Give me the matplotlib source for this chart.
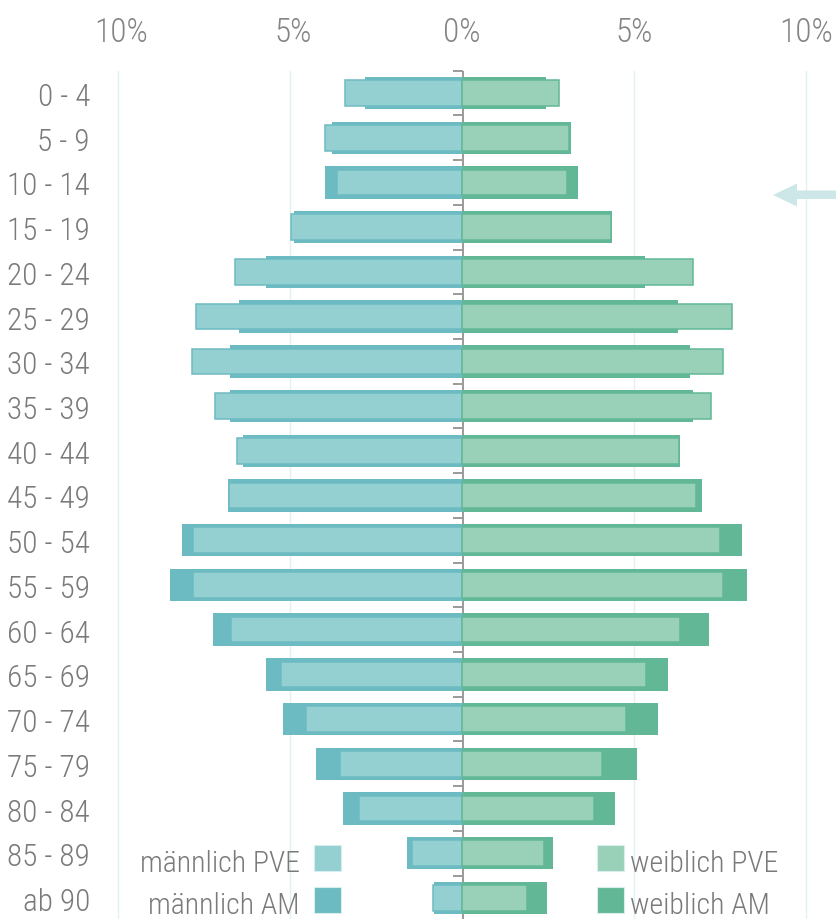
import matplotlib
matplotlib.use("Agg")
import matplotlib.pyplot as plt
from matplotlib.patches import Rectangle, Polygon

plt.rcParams['font.family'] = ['Roboto Condensed', 'Barlow Condensed', 'DejaVu Sans']
plt.rcParams['font.weight'] = 'light'

# age groups and shares in percent
ages = ['0 - 4', '5 - 9', '10 - 14', '15 - 19', '20 - 24', '25 - 29', '30 - 34',
        '35 - 39', '40 - 44', '45 - 49', '50 - 54', '55 - 59', '60 - 64',
        '65 - 69', '70 - 74', '75 - 79', '80 - 84', '85 - 89', 'ab 90']
m_pve = [3.40, 3.97, 3.62, 4.96, 6.59, 7.72, 7.85, 7.19, 6.53, 6.77,
         7.82, 7.83, 6.71, 5.25, 4.54, 3.56, 3.00, 1.45, 0.85]
m_am = [2.83, 3.78, 3.97, 4.89, 5.70, 6.48, 6.73, 6.75, 6.36, 6.79,
        8.13, 8.49, 7.24, 5.71, 5.20, 4.24, 3.45, 1.60, 0.81]
w_pve = [2.82, 3.11, 3.04, 4.34, 6.71, 7.86, 7.60, 7.24, 6.32, 6.80,
         7.51, 7.58, 6.35, 5.34, 4.76, 4.08, 3.83, 2.38, 1.90]
w_am = [2.44, 3.18, 3.38, 4.37, 5.32, 6.28, 6.62, 6.72, 6.35, 6.99,
        8.15, 8.28, 7.17, 5.98, 5.69, 5.09, 4.46, 2.65, 2.46]
xticks = [-10, -5, 0, 5, 10]
xlabels = ['10%', '5%', '0%', '5%', '10%']

c_m_pve = '#94cfd1'
c_m_am = '#6cbbc2'
c_w_pve = '#99d1b8'
c_w_am = '#62b797'
grey = '#858585'
txtgrey = '#7a7a7a'

W, H = 837, 920
fig = plt.figure(figsize=(W / 100, H / 100), dpi=100)

def fx(px):
    return px / W

def fy(py):
    return 1 - py / H

# axes: 0% at x=462, 34.4 px per percent; rows 44.72 px apart starting y=94
x0, sx = 462.0, 34.4
y0, sy = 94.0, 44.72
ax_l, ax_r, ax_t, ax_b = 100, 837, 72, 920
ax = fig.add_axes([fx(ax_l), fy(ax_b), fx(ax_r - ax_l), (ax_b - ax_t) / H])
ax.set_xlim((ax_l - x0) / sx, (ax_r - x0) / sx)
ax.set_ylim((ax_b - y0) / sy, (ax_t - y0) / sy)
ax.axis('off')

for v in [-10, -5, 5, 10]:
    ax.axvline(v, color='#e5f1f1', lw=1, zorder=0)

pos = list(range(len(ages)))
ax.barh(pos, [-v for v in m_am], height=0.725, color=c_m_am, lw=0, zorder=2)
ax.barh(pos, w_am, height=0.725, color=c_w_am, lw=0, zorder=2)
ax.barh(pos, [-v for v in m_pve], height=0.572, color=c_m_pve,
        edgecolor=c_m_am, lw=1.1, zorder=3)
ax.barh(pos, w_pve, height=0.572, color=c_w_pve,
        edgecolor=c_w_am, lw=1.1, zorder=3)

# centre axis with small ticks between the groups
ax.axvline(0.04, color='#9a9a9a', lw=1.4, zorder=1)
for i in range(-1, len(ages)):
    ax.plot([-0.25, 0.04], [i + 0.5, i + 0.5], color='#9a9a9a', lw=1.4,
            zorder=1, solid_capstyle='butt', clip_on=False)

# top percent labels
for v, lab in zip(xticks, xlabels):
    fig.text(fx(x0 + v * sx + (3 if v < 0 else 0)), fy(42), lab, ha='center',
             va='baseline', fontsize=24, color=grey)

# age labels
for i, lab in enumerate(ages):
    fig.text(fx(90), fy(y0 + i * sy + 12), lab, ha='right', va='baseline',
             fontsize=22.5, color=txtgrey)

# legend
def swatch(x, y, c):
    fig.add_artist(Rectangle((fx(x), fy(y + 26)), 27 / W, 26 / H,
                             transform=fig.transFigure, facecolor=c,
                             edgecolor='#d8eeee', lw=0.8))

swatch(314.5, 845.5, c_m_pve)
swatch(314.5, 887.5, c_m_am)
swatch(597, 845.5, c_w_pve)
swatch(597, 887.5, c_w_am)
fig.text(fx(300), fy(872), 'männlich PVE', ha='right', va='baseline',
         fontsize=21.5, color=txtgrey)
fig.text(fx(300), fy(914), 'männlich AM', ha='right', va='baseline',
         fontsize=21.5, color=txtgrey)
fig.text(fx(630), fy(872), 'weiblich PVE', ha='left', va='baseline',
         fontsize=21.5, color=txtgrey)
fig.text(fx(630), fy(914), 'weiblich AM', ha='left', va='baseline',
         fontsize=21.5, color=txtgrey)

# arrow on the right edge
arrow = [(773, 196), (797, 184.5), (797, 191.5), (837, 191.5),
         (837, 200), (797, 200), (797, 207.5)]
fig.add_artist(Polygon([(fx(a), fy(b)) for a, b in arrow], closed=True,
                       transform=fig.transFigure, facecolor='#cde6e8', lw=0))

fig.savefig('out.png', dpi=100)
